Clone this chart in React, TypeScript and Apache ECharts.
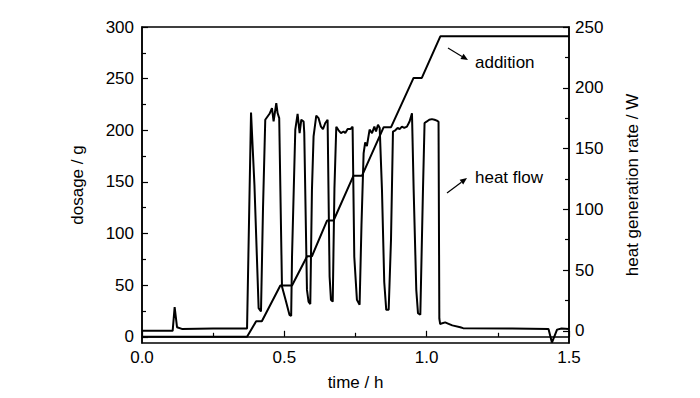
import React, { useEffect, useRef } from "react";
import * as echarts from "echarts";

// dosage (addition) curve: [time h, dosage g]
const additionTime = [0, 0.369, 0.401, 0.421, 0.486, 0.527, 0.58, 0.597, 0.65, 0.673, 0.743, 0.773, 0.849, 0.875, 0.954, 0.983, 1.048, 1.5];
const additionDose = [0, 0, 15, 15, 49.7, 49.7, 78, 78, 112.6, 112.6, 156, 156, 203, 203, 250.7, 250.7, 291, 291];

// heat flow curve: [time h, heat generation rate W]
const heatTime = [
  0, 0.1077, 0.1147, 0.123, 0.14, 0.25, 0.369,
  0.383, 0.395, 0.4097, 0.418, 0.425, 0.433, 0.448, 0.4566, 0.4623, 0.4717, 0.4763, 0.482,
  0.4917, 0.505, 0.518, 0.524, 0.527, 0.5385, 0.5466, 0.5537, 0.5596, 0.5677, 0.57,
  0.5795, 0.585, 0.5912, 0.597, 0.6027, 0.6122, 0.6203, 0.6287, 0.6357, 0.6438, 0.652,
  0.659, 0.6638, 0.67, 0.676, 0.6825, 0.6906, 0.699, 0.708, 0.714, 0.7225, 0.732, 0.7398,
  0.7457, 0.755, 0.7644, 0.771, 0.7785, 0.784, 0.79, 0.7995, 0.808, 0.8163, 0.822, 0.829, 0.835,
  0.843, 0.851, 0.858, 0.8665, 0.8747, 0.8816, 0.8898, 0.898, 0.905, 0.913, 0.9213, 0.9307, 0.94, 0.9484,
  0.9543, 0.9635, 0.9695, 0.9777, 0.987, 0.9926, 1.0008, 1.009, 1.0183, 1.0277, 1.0359, 1.0417,
  1.0445, 1.0475, 1.055, 1.065, 1.075, 1.09, 1.118, 1.128, 1.3, 1.428, 1.44, 1.458, 1.474, 1.5,
];
const heatRate = [
  0, 0, 19.5, 3, 1.6, 2, 2,
  179.7, 120, 18.7, 16, 100, 173.7, 178.6, 183.3, 172.3, 187.4, 179.2, 175,
  36.5, 25, 13.2, 12.3, 61, 165.5, 178.6, 162.7, 173.7, 172.3, 163,
  33.7, 24, 22, 116, 160, 177, 175, 168, 166, 171, 173.7,
  44.7, 25.5, 24, 117, 168, 165, 162.7, 164, 162.7, 166, 166, 168,
  61, 25.5, 21.4, 87, 146, 155, 152, 165.5, 162.7, 168, 164, 169.6, 167,
  116, 40, 17.3, 17.3, 75, 164, 165, 167, 166, 168, 167, 168, 172.3, 179,
  116, 33.7, 14.6, 13.2, 116, 171, 172.3, 173.7, 174.2, 173.7, 173, 172,
  10, 5.5, 6.3, 7, 6, 4.5, 3, 2.2, 2, 1.6, -9.6, 1, 2, 1.5,
];

const xTicks = [0, 0.5, 1.0, 1.5];
const leftTicks = [0, 50, 100, 150, 200, 250, 300];
const leftMinor = [25, 75, 125, 175, 225, 275];
const rightTicks = [0, 50, 100, 150, 200, 250];
const rightMinor = [25, 75, 125, 175, 225];

const FONT = "'Liberation Sans', Arial, sans-serif";
const txt = { color: "#000", fontSize: 17, fontFamily: FONT };

function arrow(x1: number, y1: number, x2: number, y2: number) {
  const dx = x2 - x1;
  const dy = y2 - y1;
  const len = Math.sqrt(dx * dx + dy * dy);
  const ux = dx / len;
  const uy = dy / len;
  const hl = 7;
  const hw = 3;
  const bx = x2 - ux * hl;
  const by = y2 - uy * hl;
  return {
    type: "group",
    children: [
      { type: "line", shape: { x1, y1, x2: bx, y2: by }, style: { stroke: "#000", lineWidth: 1.2 } },
      {
        type: "polygon",
        shape: { points: [[x2, y2], [bx - uy * hw, by + ux * hw], [bx + uy * hw, by - ux * hw]] },
        style: { fill: "#000" },
      },
    ],
  };
}

export default function App() {
  const ref = useRef<HTMLDivElement>(null);
  useEffect(() => {
    if (!ref.current) return;
    const chart = echarts.init(ref.current, null, { renderer: "svg" });
    const addition = additionTime.map((t, i) => [t, additionDose[i]]);
    const heat = heatTime.map((t, i) => [t, heatRate[i]]);
    const leftMin = -6;
    const rightMin = -10;
    chart.setOption({
      animation: false,
      grid: {
        left: 142, right: 131, top: 27, bottom: 55,
        show: true, borderColor: "#000", borderWidth: 1.5, backgroundColor: "transparent",
      },
      xAxis: {
        type: "value", min: 0, max: 1.5, interval: 0.5,
        axisLine: { show: true, lineStyle: { color: "#000", width: 1.5 } },
        axisTick: { show: true, inside: true, length: 6, lineStyle: { color: "#000", width: 1.2 } },
        minorTick: { show: true, splitNumber: 2, length: 4, lineStyle: { color: "#000", width: 1.2 } },
        splitLine: { show: false },
        minorSplitLine: { show: false },
        axisLabel: { ...txt, margin: 6, formatter: (v: number) => v.toFixed(1), customValues: xTicks },
        name: "time / h", nameLocation: "middle", nameGap: 31, nameTextStyle: txt,
      },
      yAxis: [
        {
          type: "value", position: "left", min: leftMin, max: 300,
          axisLine: { show: true, lineStyle: { color: "#000", width: 1.5 } },
          axisTick: { show: true, inside: true, length: 6, customValues: leftTicks, lineStyle: { color: "#000", width: 1.2 } },
          axisLabel: { ...txt, margin: 8, customValues: leftTicks, padding: [6, 0, 0, 0] },
          splitLine: { show: false },
          name: "dosage / g", nameLocation: "middle", nameGap: 56, nameTextStyle: txt,
        },
        {
          type: "value", position: "right", min: rightMin, max: 250,
          axisLine: { show: true, lineStyle: { color: "#000", width: 1.5 } },
          axisTick: { show: true, inside: true, length: 6, customValues: rightTicks, lineStyle: { color: "#000", width: 1.2 } },
          axisLabel: { ...txt, margin: 6, customValues: rightTicks, padding: [3, 0, 0, 0] },
          splitLine: { show: false },
          name: "heat generation rate / W", nameLocation: "middle", nameGap: 55, nameTextStyle: txt,
        },
        {
          type: "value", position: "left", min: leftMin, max: 300,
          axisLine: { show: false },
          axisTick: { show: true, inside: true, length: 4, customValues: leftMinor, lineStyle: { color: "#000", width: 1.2 } },
          axisLabel: { show: false },
          splitLine: { show: false },
        },
        {
          type: "value", position: "right", min: rightMin, max: 250,
          axisLine: { show: false },
          axisTick: { show: true, inside: true, length: 4, customValues: rightMinor, lineStyle: { color: "#000", width: 1.2 } },
          axisLabel: { show: false },
          splitLine: { show: false },
        },
      ],
      series: [
        {
          name: "addition", type: "line", yAxisIndex: 0, data: addition, showSymbol: false, symbol: "none",
          lineStyle: { color: "#000", width: 2 }, silent: true,
        },
        {
          name: "heat flow", type: "line", yAxisIndex: 1, data: heat, showSymbol: false, symbol: "none",
          lineStyle: { color: "#000", width: 2 }, silent: true,
        },
      ],
      graphic: [
        { type: "text", left: 475, top: 54, style: { text: "addition", fill: "#000", font: `17px ${FONT}` } },
        arrow(448, 48, 468, 60),
        { type: "text", left: 475, top: 169, style: { text: "heat flow", fill: "#000", font: `17px ${FONT}` } },
        arrow(447, 193, 467, 178),
      ],
    });
    return () => chart.dispose();
  }, []);
  return <div ref={ref} style={{ position: "fixed", left: 0, top: 0, width: 700, height: 398, background: "#fff" }} />;
}
